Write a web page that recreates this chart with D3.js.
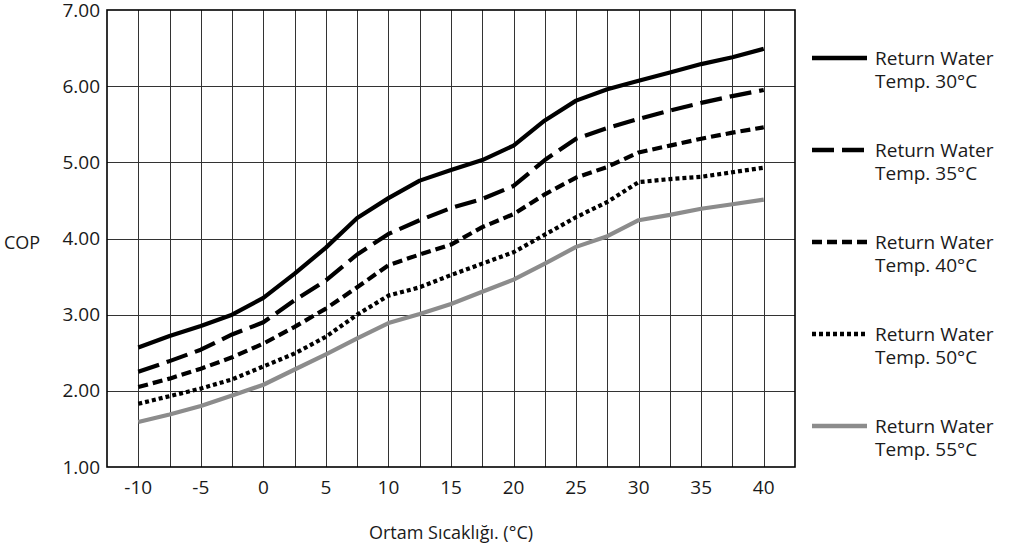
<!DOCTYPE html>
<html>
<head>
<meta charset="utf-8">
<script src="https://cdn.jsdelivr.net/npm/d3@7"></script>
<style>
  body { margin: 0; background: #fff; }
  svg { display: block; font-family: "Open Sans", sans-serif; }
  .grid line { stroke: #333; stroke-width: 1; shape-rendering: crispEdges; }
  .tick-label { font-size: 19px; fill: #1a1a1a; }
  .legend text { font-size: 19px; fill: #1a1a1a; }
</style>
</head>
<body>
<script>
// ambient temperature (°C), every 2.5 degrees
const temps = [-10, -7.5, -5, -2.5, 0, 2.5, 5, 7.5, 10, 12.5, 15, 17.5, 20, 22.5, 25, 27.5, 30, 32.5, 35, 37.5, 40];

// COP per return water temperature
const cop30 = [2.57, 2.72, 2.85, 3.00, 3.22, 3.54, 3.88, 4.27, 4.53, 4.76, 4.90, 5.03, 5.22, 5.55, 5.81, 5.96, 6.07, 6.18, 6.29, 6.38, 6.49];
const cop35 = [2.25, 2.39, 2.54, 2.74, 2.90, 3.19, 3.45, 3.79, 4.06, 4.24, 4.40, 4.52, 4.69, 5.03, 5.31, 5.45, 5.57, 5.68, 5.78, 5.87, 5.95];
const cop40 = [2.05, 2.16, 2.29, 2.44, 2.62, 2.84, 3.08, 3.36, 3.65, 3.79, 3.92, 4.15, 4.32, 4.58, 4.80, 4.94, 5.13, 5.22, 5.31, 5.39, 5.46];
const cop50 = [1.83, 1.93, 2.03, 2.15, 2.32, 2.49, 2.71, 3.00, 3.25, 3.36, 3.52, 3.67, 3.82, 4.05, 4.28, 4.48, 4.74, 4.78, 4.81, 4.87, 4.93];
const cop55 = [1.59, 1.69, 1.80, 1.94, 2.08, 2.28, 2.48, 2.69, 2.89, 3.01, 3.14, 3.30, 3.46, 3.67, 3.89, 4.03, 4.24, 4.31, 4.39, 4.45, 4.51];

const seriesNames = ["Return Water|Temp. 30°C", "Return Water|Temp. 35°C", "Return Water|Temp. 40°C", "Return Water|Temp. 50°C", "Return Water|Temp. 55°C"];
const xTicks = [-10, -5, 0, 5, 10, 15, 20, 25, 30, 35, 40];
const yTicks = [1, 2, 3, 4, 5, 6, 7];
const xTitle = "Ortam Sıcaklığı. (°C)";
const yTitle = "COP";

const width = 1012, height = 547;
const margin = {top: 10, right: 217, bottom: 80, left: 107};

const svg = d3.select('body').append('svg')
  .attr('width', width)
  .attr('height', height);

const x = d3.scaleLinear().domain([-12.5, 42.5]).range([margin.left, width - margin.right]);
const y = d3.scaleLinear().domain([1, 7]).range([height - margin.bottom, margin.top]);

// line styles per series
const styles = [
  {color: '#000', dash: null},
  {color: '#000', dash: '22,8'},
  {color: '#000', dash: '10,5'},
  {color: '#000', dash: '4,3'},
  {color: '#8c8c8c', dash: null}
];

const series = [cop30, cop35, cop40, cop50, cop55].map((vals, i) => ({
  name: seriesNames[i],
  style: styles[i],
  points: temps.map((t, j) => [t, vals[j]])
}));

// grid
const grid = svg.append('g').attr('class', 'grid');
grid.selectAll('.vline')
  .data(d3.range(-10, 40.1, 2.5))
  .enter().append('line')
    .attr('x1', d => Math.round(x(d)) + 0.5)
    .attr('x2', d => Math.round(x(d)) + 0.5)
    .attr('y1', y(7))
    .attr('y2', y(1));
grid.selectAll('.hline')
  .data(yTicks.slice(1, -1))
  .enter().append('line')
    .attr('x1', x(-12.5))
    .attr('x2', x(42.5))
    .attr('y1', d => Math.round(y(d)) + 0.5)
    .attr('y2', d => Math.round(y(d)) + 0.5);

// frame
svg.append('rect')
  .attr('x', x(-12.5))
  .attr('y', y(7))
  .attr('width', x(42.5) - x(-12.5))
  .attr('height', y(1) - y(7))
  .attr('fill', 'none')
  .attr('stroke', '#000')
  .attr('stroke-width', 1.6);

// tick labels
svg.append('g').selectAll('text')
  .data(yTicks)
  .enter().append('text')
    .attr('class', 'tick-label')
    .attr('x', x(-12.5) - 7)
    .attr('y', d => y(d))
    .attr('dy', '0.35em')
    .attr('text-anchor', 'end')
    .text(d => d3.format('.2f')(d));

svg.append('g').selectAll('text')
  .data(xTicks)
  .enter().append('text')
    .attr('class', 'tick-label')
    .attr('x', d => x(d))
    .attr('y', y(1) + 27)
    .attr('text-anchor', 'middle')
    .text(d => d);

// axis titles
svg.append('text')
  .attr('class', 'tick-label')
  .attr('x', (x(-12.5) + x(42.5)) / 2)
  .attr('y', height - 8)
  .attr('text-anchor', 'middle')
  .style('font-size', '18px')
  .text(xTitle);

svg.append('text')
  .attr('class', 'tick-label')
  .attr('x', 4)
  .attr('y', 243)
  .attr('dy', '0.35em')
  .style('font-size', '18px')
  .text(yTitle);

// curves
const line = d3.line()
  .x(d => x(d[0]))
  .y(d => y(d[1]));

svg.append('g').selectAll('path')
  .data(series)
  .enter().append('path')
    .attr('d', d => line(d.points))
    .attr('fill', 'none')
    .attr('stroke', d => d.style.color)
    .attr('stroke-width', 4.2)
    .attr('stroke-dasharray', d => d.style.dash)
    .attr('stroke-linejoin', 'round');

// legend
const legend = svg.append('g').attr('class', 'legend');
const item = legend.selectAll('g')
  .data(series)
  .enter().append('g')
    .attr('transform', (d, i) => `translate(812, ${58 + i * 92})`);

item.append('line')
  .attr('x1', 0)
  .attr('x2', 55)
  .attr('stroke', d => d.style.color)
  .attr('stroke-width', 4.5)
  .attr('stroke-dasharray', d => d.style.dash);

// two-line label in one text element
const label = item.append('text')
  .attr('x', 63)
  .attr('y', 0);
label.append('tspan')
  .attr('x', 63)
  .attr('dy', '0.35em')
  .text(d => d.name.split('|')[0]);
label.append('tspan')
  .attr('x', 63)
  .attr('dy', 23)
  .text(d => d.name.split('|')[1]);
</script>
</body>
</html>
